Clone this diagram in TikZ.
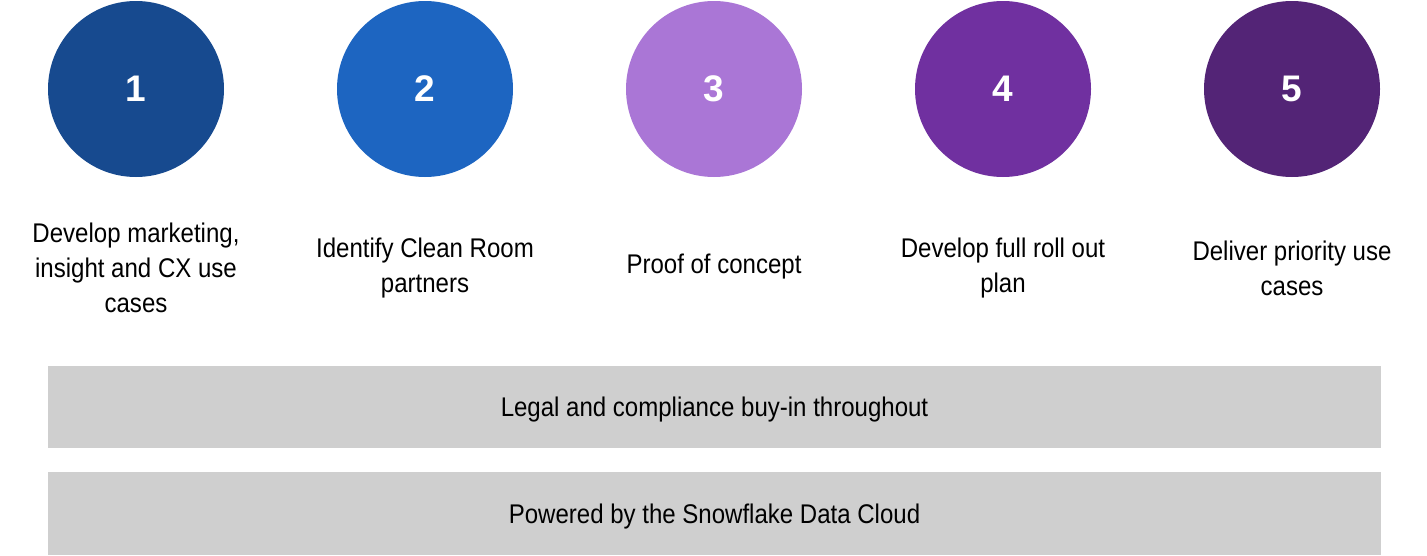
\documentclass[tikz,border=0pt]{standalone}
\usepackage{fontspec}
\setmainfont[FakeStretch=0.89]{Liberation Sans}
\newfontfamily\numfont{Liberation Sans}
\usetikzlibrary{positioning}

\definecolor{stepone}{HTML}{174A8F}
\definecolor{steptwo}{HTML}{1D65C1}
\definecolor{stepthree}{HTML}{AA76D6}
\definecolor{stepfour}{HTML}{7030A0}
\definecolor{stepfive}{HTML}{532476}
\definecolor{bandgray}{HTML}{CFCFCF}

\begin{document}
\begin{tikzpicture}[
    x=1pt, y=-1pt,
    stepdot/.style={circle, minimum size=176pt, inner sep=0pt, text=white,
        font=\numfont\fontsize{37}{37}\selectfont\bfseries},
    steptext/.style={align=center, inner sep=0pt, font=\fontsize{27}{35}\selectfont},
    band/.style={fill=bandgray, minimum width=1333pt, minimum height=82pt,
        inner sep=0pt, text height=19pt, text depth=0pt, font=\fontsize{27}{35}\selectfont}
    ]
    \useasboundingbox (0,0) rectangle (1427,555);
    \foreach \n/\c [count=\i from 0] in {1/stepone,2/steptwo,3/stepthree,4/stepfour,5/stepfive}
        \node[stepdot, fill=\c] (c\n) at (136+289*\i,89) {\n};
    \node[steptext] (t1) at (136,268) {Develop marketing,\\insight and CX use\\cases};
    \node[steptext] (t2) at (425,268) {Identify Clean Room\\partners};
    \node[steptext] (t3) at (714,267) {Proof of concept};
    \node[steptext] (t4) at (1003,268) {Develop full roll out\\plan};
    \node[steptext] (t5) at (1292,268) {Deliver priority use\\cases};
    \node[band] (legal) at (714.5,407) {Legal and compliance buy-in throughout};
    \node[band, minimum height=83pt] (cloud) at (714.5,513.5) {Powered by the Snowflake Data Cloud};
\end{tikzpicture}
\end{document}
